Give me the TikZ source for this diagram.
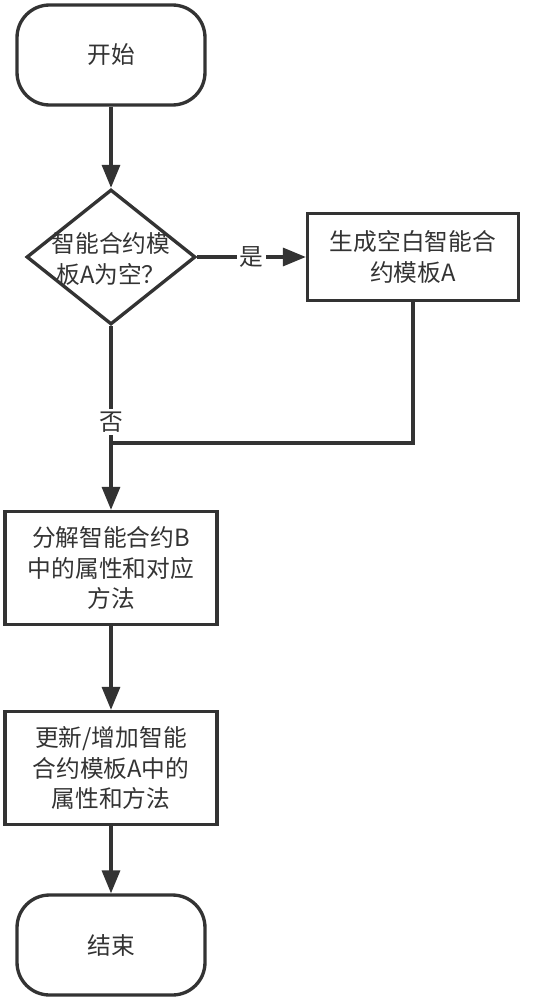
\documentclass[tikz,border=0pt]{standalone}
\usepackage{fontspec}
\newfontfamily\cjk{Noto Sans CJK SC}
\usetikzlibrary{shapes.geometric,arrows.meta}
\definecolor{ink}{HTML}{333333}
\begin{document}
\begin{tikzpicture}[x=0.02cm,y=-0.02cm,
	every node/.style={font=\cjk\fontsize{13.5}{17.6}\selectfont, text=ink, align=center},
	term/.style={draw=ink, line width=1.9pt, rounded corners=0.65cm, minimum width=3.76cm, minimum height=2cm},
	procbox/.style={draw=ink, line width=1.9pt, minimum width=4.24cm, minimum height=2.26cm},
	decision/.style={draw=ink, line width=1.9pt, diamond, inner sep=0pt, minimum width=3.38cm, minimum height=2.7cm},
	flow/.style={draw=ink, line width=1.9pt, -{Triangle[length=0.46cm,width=0.36cm]}},
	lbl/.style={fill=white, inner sep=1.5pt}]
	\useasboundingbox (0,0) rectangle (544,1000);

	\node[term] (start) at (111,55) {开始};
	\node[decision] (dec) at (111,257) {};
	\node (dectext) at (111,259) {智能合约模\\板A为空？};
	\node[procbox, minimum width=4.22cm, minimum height=1.74cm] (gen) at (413,257) {生成空白智能合\\约模板A};
	\node[procbox] (split) at (111,568) {分解智能合约B\\中的属性和对应\\方法};
	\node[procbox] (update) at (111,768) {更新/增加智能\\合约模板A中的\\属性和方法};
	\node[term] (stop) at (111,945) {结束};
	\coordinate (merge) at (111,443);

	\draw[flow] (start) -- (dec);
	\draw[flow] (dec.east) -- node[lbl] {是} (gen.west);
	\draw[flow] (dec.south) -- node[lbl, pos=0.52] {否} (split.north);
	\draw[draw=ink, line width=1.9pt] (gen.south) |- (merge);
	\draw[flow] (split) -- (update);
	\draw[flow] (update) -- (stop);
\end{tikzpicture}
\end{document}
